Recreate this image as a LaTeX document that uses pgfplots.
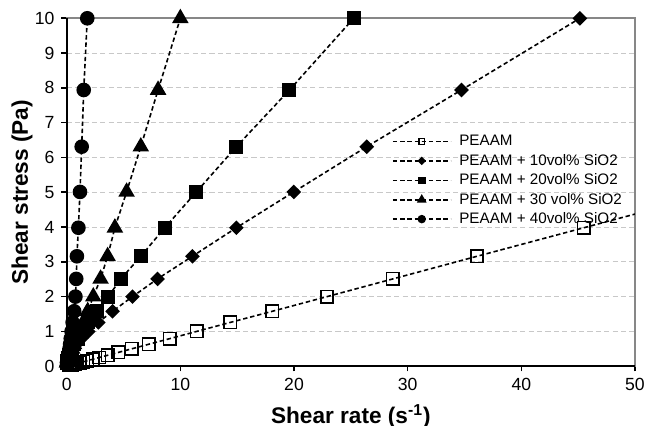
\documentclass[border=0pt]{standalone}
\usepackage{fontspec}
\setmainfont{Liberation Sans}
\usepackage{pgfplots}
\pgfplotsset{compat=1.18}
\definecolor{gridgray}{RGB}{200,200,200}
\definecolor{boxgray}{RGB}{135,135,135}
\begin{document}
\begin{tikzpicture}
\useasboundingbox (-33.35pt,-29.85pt) rectangle (290.7pt,183.15pt);
\begin{axis}[
  name=ax, at={(0,0)}, anchor=south west,
  scale only axis, width=284.2pt, height=174pt,
  xmin=0, xmax=50, ymin=0, ymax=10,
  xtick={0,10,...,50}, ytick={0,1,...,10},
  axis line style={boxgray, line width=0.9pt},
  tick style={black, line width=0.8pt},
  tick align=outside, major tick length=2.6pt,
  xtick pos=left, ytick pos=left,
  ymajorgrids,
  major grid style={gridgray, line width=0.55pt, dash pattern=on 2.6pt off 1.6pt},
  /pgf/number format/assume math mode=true,
  tick label style={font=\fontsize{8.8}{10}\selectfont},
  xlabel={Shear rate (s\textsuperscript{-1})},
  ylabel={Shear stress (Pa)},
  label style={font=\fontsize{11.3}{13}\selectfont\bfseries},
  xlabel style={at={(axis description cs:0.5,-0.1448)}, anchor=center},
  ylabel style={at={(axis description cs:-0.0786,0.5)}, anchor=center},
  legend style={draw=none, fill=none, at={(rel axis cs:0.572,0.672)}, anchor=north west,
    inner sep=0pt, row sep=1.0pt, column sep=3.5pt,
    font=\fontsize{7.6}{8.6}\selectfont,
    nodes={inner sep=0.5pt, text height=6pt, text depth=1.7pt}},
  legend cell align=left,
  every axis plot/.append style={black, line width=0.8pt, dash pattern=on 2.2pt off 1.4pt},
]
% PEAAM
\addplot[mark=square, mark size=3.1pt, mark options={solid, fill=white, line width=0.75pt},
  legend image code/.code={\draw[mark repeat=2,mark phase=2,mark size=1.4pt] plot coordinates {(0pt,0pt) (14.4pt,0pt) (28.8pt,0pt)};}]
coordinates {(0.23,0.02)(0.29,0.0251)(0.36,0.0316)(0.45,0.0398)(0.57,0.0501)(0.72,0.0631)(0.91,0.0794)(1.14,0.1)(1.44,0.126)(1.81,0.158)(2.29,0.2)(2.87,0.251)(3.61,0.316)(4.55,0.398)(5.73,0.501)(7.21,0.631)(9.08,0.794)(11.43,1.0)(14.4,1.26)(18.1,1.58)(22.9,2.0)(28.7,2.51)(36.1,3.16)(45.5,3.98)};
\addlegendentry{PEAAM}
\addplot[forget plot, no marks] coordinates {(45.5,3.98)(57.3,5.01)};
% 10 vol%
\addplot[mark=square*, mark size=2.2pt, mark options={solid, rotate=45},
  legend image code/.code={\draw[mark repeat=2,mark phase=2,mark size=1.1pt] plot coordinates {(0pt,0pt) (14.4pt,0pt) (28.8pt,0pt)};}]
coordinates {(0.027,0.1)(0.042,0.126)(0.065,0.158)(0.1,0.2)(0.16,0.251)(0.24,0.316)(0.37,0.398)(0.56,0.501)(0.85,0.631)(1.28,0.794)(1.9,1.0)(2.78,1.26)(4.04,1.58)(5.79,2.0)(7.99,2.51)(11.06,3.16)(14.93,3.98)(19.98,5.01)(26.4,6.31)(34.73,7.94)(45.15,10)};
\addlegendentry{PEAAM + 10vol\% SiO2}
% 20 vol%
\addplot[mark=square*, mark size=3.1pt, mark options={solid},
  legend image code/.code={\draw[mark repeat=2,mark phase=2,mark size=1.5pt] plot coordinates {(0pt,0pt) (14.4pt,0pt) (28.8pt,0pt)};}]
coordinates {(0.025,0.1)(0.04,0.126)(0.06,0.158)(0.09,0.2)(0.14,0.251)(0.21,0.316)(0.31,0.398)(0.46,0.501)(0.67,0.631)(0.96,0.794)(1.36,1.0)(1.9,1.26)(2.63,1.58)(3.65,2.0)(4.77,2.51)(6.52,3.16)(8.63,3.98)(11.41,5.01)(14.93,6.31)(19.6,7.94)(25.25,10)};
\addlegendentry{PEAAM + 20vol\% SiO2}
% 30 vol%
\addplot[mark=triangle*, mark size=4pt, mark options={solid},
  legend image code/.code={\draw[mark repeat=2,mark phase=2,mark size=2pt] plot coordinates {(0pt,0pt) (14.4pt,0pt) (28.8pt,0pt)};}]
coordinates {(0.03,0.1)(0.05,0.126)(0.08,0.158)(0.12,0.2)(0.18,0.251)(0.25,0.316)(0.35,0.398)(0.48,0.501)(0.64,0.631)(0.85,0.794)(1.12,1.0)(1.45,1.26)(1.85,1.58)(2.34,2.0)(2.98,2.51)(3.6,3.16)(4.24,3.98)(5.27,5.01)(6.52,6.31)(8.04,7.94)(10.0,10)};
\addlegendentry{PEAAM + 30 vol\% SiO2}
% 40 vol%
\addplot[mark=*, mark size=3.25pt, mark options={solid},
  legend image code/.code={\draw[mark repeat=2,mark phase=2,mark size=1.7pt] plot coordinates {(0pt,0pt) (14.4pt,0pt) (28.8pt,0pt)};}]
coordinates {(0.03,0.1)(0.05,0.126)(0.07,0.158)(0.09,0.2)(0.12,0.251)(0.16,0.316)(0.2,0.398)(0.25,0.501)(0.3,0.631)(0.36,0.794)(0.43,1.0)(0.52,1.26)(0.66,1.58)(0.77,2.0)(0.84,2.51)(0.9,3.16)(1.03,3.98)(1.17,5.01)(1.32,6.31)(1.5,7.94)(1.81,10)};
\addlegendentry{PEAAM + 40vol\% SiO2}
\end{axis}
\draw[black, line width=1.1pt] (ax.north west) -- (ax.south west) -- (ax.south east);
\end{tikzpicture}
\end{document}
